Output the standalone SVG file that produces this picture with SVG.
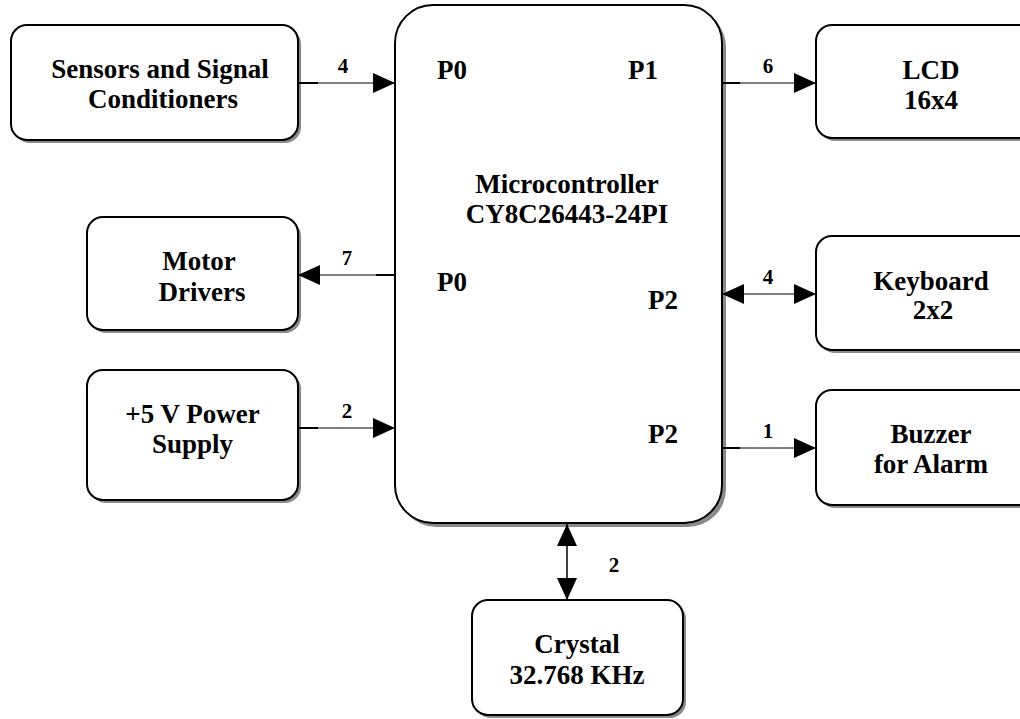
<svg xmlns="http://www.w3.org/2000/svg" width="1020" height="719" viewBox="0 0 1020 719">
<style>
.box{fill:#fff;stroke:#000;stroke-width:2}
.sh{fill:#8a8a8a;stroke:none}
.t{font-family:"Liberation Serif","Times New Roman",serif;font-weight:bold;font-size:27px;fill:#000;text-anchor:middle}
.p{font-family:"Liberation Serif","Times New Roman",serif;font-weight:bold;font-size:27px;fill:#000}
.n{font-family:"Liberation Serif","Times New Roman",serif;font-weight:bold;font-size:21px;fill:#000;text-anchor:middle}
.ln{stroke:#000;stroke-width:1;fill:none}
.stub{stroke:#000;stroke-width:2;fill:none}
</style>
<defs>
<marker id="ah" markerWidth="22" markerHeight="20" refX="22" refY="10" orient="auto" markerUnits="userSpaceOnUse">
<path d="M0,0 L22,10 L0,20 Z" fill="#000"/>
</marker>
<marker id="ahs" markerWidth="22" markerHeight="20" refX="0" refY="10" orient="auto" markerUnits="userSpaceOnUse">
<path d="M22,0 L0,10 L22,20 Z" fill="#000"/>
</marker>
</defs>
<rect width="1020" height="719" fill="#fff"/>

<g id="mcu">
<rect class="sh" x="398" y="9" width="328" height="518" rx="38"/>
<rect class="box" x="395" y="5" width="327" height="518" rx="38"/>
<text class="p" x="437" y="79">P0</text>
<text class="p" x="628" y="79">P1</text>
<text class="t" x="567" y="193">Microcontroller</text>
<text class="t" x="567" y="223">CY8C26443-24PI</text>
<text class="p" x="437" y="291">P0</text>
<text class="p" x="648" y="309">P2</text>
<text class="p" x="648" y="443">P2</text>
</g>

<g id="sensors">
<rect class="sh" x="14" y="28" width="287" height="115" rx="16"/>
<rect class="box" x="11" y="25" width="287" height="115" rx="16"/>
<text class="t" x="160" y="78">Sensors and Signal</text>
<text class="t" x="163" y="108">Conditioners</text>
</g>

<g id="lcd">
<rect class="sh" x="819" y="28" width="220" height="113" rx="16"/>
<rect class="box" x="816" y="25" width="220" height="113" rx="16"/>
<text class="t" x="931" y="79">LCD</text>
<text class="t" x="931" y="109">16x4</text>
</g>

<g id="motor">
<rect class="sh" x="90" y="220" width="211" height="113" rx="16"/>
<rect class="box" x="87" y="217" width="211" height="113" rx="16"/>
<text class="t" x="199" y="270">Motor</text>
<text class="t" x="202" y="301">Drivers</text>
</g>

<g id="power">
<rect class="sh" x="90" y="373" width="211" height="130" rx="16"/>
<rect class="box" x="87" y="370" width="211" height="130" rx="16"/>
<text class="t" x="192.5" y="423">+5 V Power</text>
<text class="t" x="192.5" y="453">Supply</text>
</g>

<g id="keyboard">
<rect class="sh" x="819" y="239" width="220" height="114" rx="16"/>
<rect class="box" x="816" y="236" width="220" height="114" rx="16"/>
<text class="t" x="931" y="290">Keyboard</text>
<text class="t" x="933" y="319">2x2</text>
</g>

<g id="buzzer">
<rect class="sh" x="819" y="393" width="220" height="115" rx="16"/>
<rect class="box" x="816" y="390" width="220" height="115" rx="16"/>
<text class="t" x="931" y="443">Buzzer</text>
<text class="t" x="931" y="473">for Alarm</text>
</g>

<g id="crystal">
<rect class="sh" x="475" y="603" width="211" height="115" rx="16"/>
<rect class="box" x="472" y="600" width="211" height="115" rx="16"/>
<text class="t" x="577" y="653">Crystal</text>
<text class="t" x="577" y="684">32.768 KHz</text>
</g>

<g id="connectors">
<line class="ln" x1="298" y1="83" x2="395" y2="83" marker-end="url(#ah)"/>
<line class="stub" x1="298" y1="83" x2="318" y2="83"/>
<text class="n" x="343" y="73">4</text>

<line class="ln" x1="722" y1="83" x2="816" y2="83" marker-end="url(#ah)"/>
<line class="stub" x1="722" y1="83" x2="740" y2="83"/>
<text class="n" x="768" y="73">6</text>

<line class="ln" x1="395" y1="275" x2="298" y2="275" marker-end="url(#ah)"/>
<line class="stub" x1="376" y1="275" x2="395" y2="275"/>
<text class="n" x="347" y="265">7</text>

<line class="ln" x1="298" y1="428" x2="395" y2="428" marker-end="url(#ah)"/>
<line class="stub" x1="298" y1="428" x2="318" y2="428"/>
<text class="n" x="347" y="418">2</text>

<line class="ln" x1="722" y1="294" x2="816" y2="294" marker-start="url(#ahs)" marker-end="url(#ah)"/>
<text class="n" x="768" y="284">4</text>

<line class="ln" x1="722" y1="448" x2="816" y2="448" marker-end="url(#ah)"/>
<line class="stub" x1="722" y1="448" x2="740" y2="448"/>
<text class="n" x="768" y="438">1</text>

<line class="stub" style="stroke-width:1.5" x1="567" y1="524" x2="567" y2="600" marker-start="url(#ahs)" marker-end="url(#ah)"/>
<text class="n" x="614" y="572">2</text>
</g>
</svg>
